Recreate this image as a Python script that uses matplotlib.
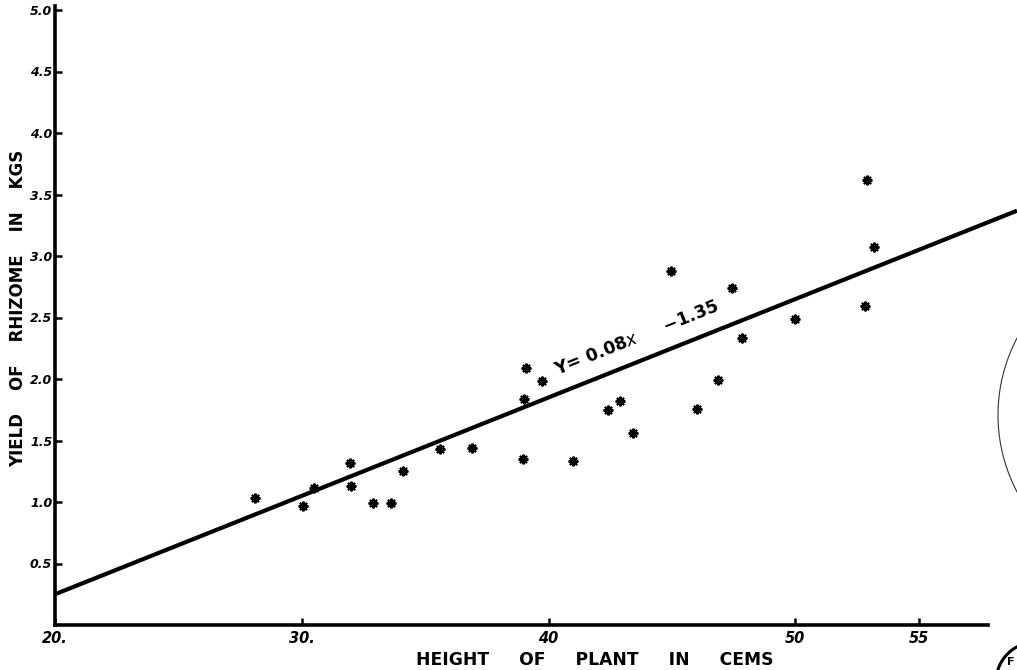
import matplotlib
matplotlib.use("Agg")
import matplotlib.pyplot as plt
from matplotlib.patches import Circle
import numpy as np

# Data
height_cm = [28.1, 30.05, 30.5, 31.95, 32.0, 32.9, 33.6, 34.1, 35.6, 36.9,
             38.95, 39.0, 39.1, 39.75, 41.0, 42.4, 42.9, 43.4, 44.95, 46.0,
             46.85, 47.45, 47.85, 50.0, 52.8, 52.9, 53.2]
yield_kg = [1.03, 0.97, 1.11, 1.32, 1.13, 0.99, 0.99, 1.25, 1.43, 1.44,
            1.35, 1.84, 2.09, 1.98, 1.33, 1.75, 1.82, 1.56, 2.88, 1.76,
            1.99, 2.74, 2.33, 2.49, 2.59, 3.62, 3.07]

slope = 0.08
intercept = -1.35

x_ticks = [20, 30, 40, 50, 55]
x_tick_labels = ['20.', '30.', '40', '50', '55']
y_ticks = [0.5, 1.0, 1.5, 2.0, 2.5, 3.0, 3.5, 4.0, 4.5, 5.0]
y_tick_labels = ['0.5', '1.0', '1.5', '2.0', '2.5', '3.0', '3.5', '4.0', '4.5', '5.0']

W, H = 1017, 670
fig = plt.figure(figsize=(W / 100, H / 100), dpi=100)
fig.patch.set_facecolor('white')

ax_left, ax_bottom = 55, 45
ax_w, ax_h = W - ax_left, H - ax_bottom - 4
ax = fig.add_axes([ax_left / W, ax_bottom / H, ax_w / W, ax_h / H])
px_per_x = 24.68
px_per_y = 123.0
ax.set_xlim(20, 20 + ax_w / px_per_x)
ax.set_ylim(0, ax_h / px_per_y)

# regression line
xl = np.array(ax.get_xlim())
ax.plot(xl, slope * xl + intercept, color='black', lw=3.0, solid_capstyle='butt', zorder=3)

# points (asterisks)
ax.plot(height_cm, yield_kg, linestyle='none', marker=(8, 2, 0), markersize=7,
        markeredgewidth=1.5, color='black', zorder=4)
ax.plot(height_cm, yield_kg, linestyle='none', marker='o', markersize=2.2,
        color='black', zorder=4)

# spines
for s in ['top', 'right']:
    ax.spines[s].set_visible(False)
ax.spines['left'].set_linewidth(2.6)
ax.spines['bottom'].set_linewidth(2.6)
ax.spines['bottom'].set_bounds(20, 57.8)
ax.spines['left'].set_bounds(0, 5.03)

ax.set_xticks(x_ticks)
ax.set_xticklabels(x_tick_labels, fontsize=10.5, fontweight='bold', fontstyle='italic')
ax.set_yticks(y_ticks)
ax.set_yticklabels(y_tick_labels, fontsize=9, fontweight='bold', fontstyle='italic')
ax.tick_params(axis='both', direction='in', length=5, width=1.8, colors='black')
ax.tick_params(axis='x', pad=4)
ax.tick_params(axis='y', pad=2)

ax.set_xlabel('HEIGHT     OF     PLANT     IN     CEMS', fontsize=12.3, fontweight='bold')
ax.xaxis.set_label_coords((595 - ax_left) / ax_w, -26 / ax_h)
ax.xaxis.label.set_va('top')
ax.set_ylabel('YIELD    OF    RHIZOME    IN    KGS', fontsize=12, fontweight='bold')
ax.yaxis.set_label_coords(-37 / ax_w, (625 - 308) / ax_h)
ax.yaxis.label.set_va('center')

# equation label along the line
angle = np.degrees(np.arctan(slope * px_per_y / px_per_x))
ax.text(43.55, 2.33, 'Y= 0.08$x$     −1.35', rotation=angle, rotation_mode='anchor',
        ha='center', va='center', fontsize=12.5, fontweight='bold', zorder=5)

# partial library stamps at the right edge (decoration)
ov = fig.add_axes([0, 0, 1, 1], facecolor='none')
ov.set_xlim(0, W)
ov.set_ylim(H, 0)
ov.set_aspect('auto')
ov.axis('off')
ov.add_patch(Circle((1163, 415), 165, fill=False, lw=0.8, edgecolor='#333333'))
ov.add_patch(Circle((1036, 682), 40, fill=False, lw=2.2, edgecolor='black'))
ov.text(1007, 662, 'F', fontsize=8, fontweight='bold', ha='left', va='center')

fig.savefig('out.png', dpi=100, facecolor='white')
